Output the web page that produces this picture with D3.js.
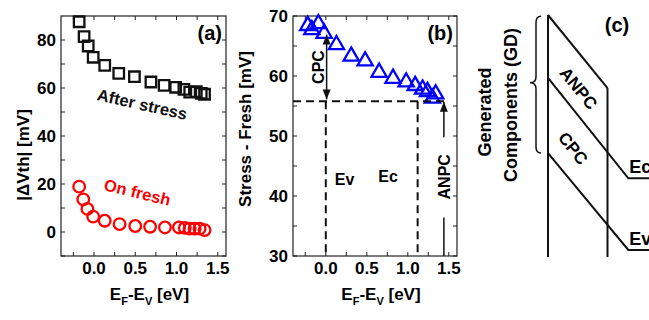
<!DOCTYPE html>
<html><head><meta charset="utf-8">
<script src="https://cdn.jsdelivr.net/npm/d3@7"></script>
<style>body{margin:0;background:#fff}svg{display:block}text{font-family:"Liberation Sans",Arial,sans-serif;font-weight:bold}</style>
</head><body><svg id="c" width="649" height="320"></svg>
<script>
// ---- data ----
const xMajorTicks = [0, 0.5, 1.0, 1.5];
const xMinorTicks = [-0.25, 0.25, 0.75, 1.25];
const aYMajorTicks = [0, 20, 40, 60, 80];
const aYMinorTicks = [-10, 10, 30, 50, 70];
const bYMajorTicks = [30, 40, 50, 60, 70];
const bYMinorTicks = [35, 45, 55, 65];

const stressX = [-0.18, -0.12, -0.07, -0.01, 0.13, 0.30, 0.49, 0.69, 0.85, 0.99, 1.09, 1.16, 1.24, 1.30, 1.34];
const stressY = [87.6, 81.4, 77.5, 72.8, 69.4, 66.1, 64.7, 62.5, 61.1, 60.3, 59.4, 58.3, 58.5, 57.8, 57.4];
const freshX  = [-0.18, -0.13, -0.08, -0.01, 0.13, 0.31, 0.50, 0.68, 0.86, 1.03, 1.10, 1.16, 1.22, 1.28, 1.34];
const freshY  = [18.9, 13.6, 9.6, 6.4, 4.7, 3.3, 2.5, 2.2, 1.9, 1.9, 1.7, 1.4, 1.4, 1.4, 0.8];
const diffX = [-0.22, -0.17, -0.09, -0.02, 0.13, 0.31, 0.48, 0.65, 0.82, 0.98, 1.09, 1.18, 1.24, 1.30, 1.34];
const diffY = [68.4, 67.7, 68.7, 67.1, 65.2, 63.3, 62.5, 60.6, 59.6, 59.0, 58.4, 57.8, 57.4, 56.3, 57.0];

const refLevel = 55.8;   // horizontal dashed level in (b)
const evPos = 0.0, ecPos = 1.12, anpcPos = 1.44;

// schematic (c): band edges in relative units [start level, level at knee]
const bandLabels = ["Ec", "Ev"];
const bandStart = [0.26, 0.571];
const bandKnee  = [0.675, 0.971];

const svg = d3.select("#c");
const FS = 17;

function panel(left, right, top, bottom, xDom, yDom, yMaj, yMin) {
  const x = d3.scaleLinear().domain(xDom).range([left, right]);
  const y = d3.scaleLinear().domain(yDom).range([bottom, top]);
  const g = svg.append("g");
  const tk = 4;
  const allX = xMajorTicks.concat(xMinorTicks);
  const allY = yMaj.concat(yMin);
  allX.forEach(v => {
    g.append("line").attr("x1", x(v)).attr("x2", x(v)).attr("y1", bottom).attr("y2", bottom - tk).attr("stroke", "#222").attr("stroke-width", 1);
    g.append("line").attr("x1", x(v)).attr("x2", x(v)).attr("y1", top).attr("y2", top + tk).attr("stroke", "#222").attr("stroke-width", 1);
  });
  allY.forEach(v => {
    if (y(v) > bottom + 0.5 || y(v) < top - 0.5) return;
    g.append("line").attr("x1", left).attr("x2", left + tk).attr("y1", y(v)).attr("y2", y(v)).attr("stroke", "#222").attr("stroke-width", 1);
    g.append("line").attr("x1", right).attr("x2", right - tk).attr("y1", y(v)).attr("y2", y(v)).attr("stroke", "#222").attr("stroke-width", 1);
  });
  g.append("rect").attr("x", left).attr("y", top).attr("width", right - left).attr("height", bottom - top)
    .attr("fill", "none").attr("stroke", "#222").attr("stroke-width", 1.2);
  xMajorTicks.forEach(v => {
    g.append("text").attr("x", x(v)).attr("y", bottom + 18).attr("text-anchor", "middle").attr("font-size", FS)
      .text(v.toFixed(1));
  });
  yMaj.forEach(v => {
    g.append("text").attr("x", left - 5).attr("y", y(v) + 6).attr("text-anchor", "end").attr("font-size", FS).text(v);
  });
  const xl = g.append("text").attr("x", (left + right) / 2 + 6).attr("y", 300).attr("text-anchor", "middle").attr("font-size", FS);
  xl.append("tspan").text("E");
  xl.append("tspan").attr("font-size", 11).attr("dy", 5).text("F");
  xl.append("tspan").attr("dy", -5).text("-E");
  xl.append("tspan").attr("font-size", 11).attr("dy", 5).text("V");
  xl.append("tspan").attr("dy", -5).text(" [eV]");
  return {x, y, g};
}

// ---- panel (a) ----
const A = panel(61, 226, 16, 256, [-0.4, 1.6], [-10, 90], aYMajorTicks, aYMinorTicks);
const sq = d3.symbol().type(d3.symbolSquare).size(110);
A.g.selectAll("path.sq").data(stressX.map((v, i) => [v, stressY[i]])).join("path")
  .attr("d", sq).attr("transform", d => `translate(${A.x(d[0])},${A.y(d[1])})`)
  .attr("fill", "none").attr("stroke", "#111").attr("stroke-width", 2.3);
A.g.selectAll("circle.fr").data(freshX.map((v, i) => [v, freshY[i]])).join("circle")
  .attr("cx", d => A.x(d[0])).attr("cy", d => A.y(d[1])).attr("r", 5.8)
  .attr("fill", "none").attr("stroke", "#ff0000").attr("stroke-width", 2.3);
A.g.append("text").attr("transform", "translate(141,110) rotate(12.5)").attr("text-anchor", "middle").attr("font-size", 16.5).attr("fill", "#111").text("After stress");
A.g.append("text").attr("transform", "translate(136,198) rotate(13.5)").attr("text-anchor", "middle").attr("font-size", 16.5).attr("fill", "#ff0000").text("On fresh");
A.g.append("text").attr("x", 222).attr("y", 40).attr("text-anchor", "end").attr("font-size", 20).text("(a)");
svg.append("text").attr("transform", "translate(29,155) rotate(-90)").attr("text-anchor", "middle").attr("font-size", FS)
  .text("|\u0394Vth| [mV]");

// ---- panel (b) ----
const B = panel(293, 457, 16, 256, [-0.4, 1.6], [30, 70], bYMajorTicks, bYMinorTicks);
const tri = d3.symbol().type(d3.symbolTriangle).size(100);
B.g.selectAll("path.tr").data(diffX.map((v, i) => [v, diffY[i]])).join("path")
  .attr("d", tri).attr("transform", d => `translate(${B.x(d[0])},${B.y(d[1])})`)
  .attr("fill", "none").attr("stroke", "#0000ff").attr("stroke-width", 2.3);
const dash = "8,5";
B.g.append("line").attr("x1", B.x(-0.4)).attr("x2", B.x(anpcPos + 0.02)).attr("y1", B.y(refLevel)).attr("y2", B.y(refLevel))
  .attr("stroke", "#111").attr("stroke-width", 2).attr("stroke-dasharray", dash);
[evPos, ecPos].forEach(v => {
  B.g.append("line").attr("x1", B.x(v)).attr("x2", B.x(v)).attr("y1", B.y(refLevel)).attr("y2", B.y(30))
    .attr("stroke", "#111").attr("stroke-width", 2).attr("stroke-dasharray", dash);
});
const defs = svg.append("defs");
defs.append("marker").attr("id", "ah").attr("viewBox", "0 0 10 10").attr("refX", 10).attr("refY", 5)
  .attr("markerWidth", 10).attr("markerHeight", 10).attr("markerUnits", "userSpaceOnUse").attr("orient", "auto-start-reverse")
  .append("path").attr("d", "M0,1 L10,5 L0,9 Z").attr("fill", "#111");
B.g.append("line").attr("x1", B.x(0.01)).attr("x2", B.x(0.01)).attr("y1", B.y(66.9)).attr("y2", B.y(refLevel + 0.3))
  .attr("stroke", "#111").attr("stroke-width", 1.5).attr("marker-start", "url(#ah)").attr("marker-end", "url(#ah)");
B.g.append("text").attr("transform", `translate(${B.x(-0.1) + 6},${B.y(61.5)}) rotate(-90)`).attr("text-anchor", "middle").attr("font-size", 16).text("CPC");
B.g.append("line").attr("x1", B.x(anpcPos)).attr("x2", B.x(anpcPos)).attr("y1", B.y(49.8)).attr("y2", B.y(refLevel - 0.1))
  .attr("stroke", "#111").attr("stroke-width", 1.5).attr("marker-end", "url(#ah)");
B.g.append("line").attr("x1", B.x(anpcPos)).attr("x2", B.x(anpcPos)).attr("y1", B.y(36.4)).attr("y2", B.y(30))
  .attr("stroke", "#111").attr("stroke-width", 1.5);
B.g.append("text").attr("transform", `translate(${B.x(anpcPos) + 6},${B.y(43.2)}) rotate(-90)`).attr("text-anchor", "middle").attr("font-size", 16).text("ANPC");
B.g.append("text").attr("x", B.x(0.23)).attr("y", B.y(41.9)).attr("text-anchor", "middle").attr("font-size", 16).text("Ev");
B.g.append("text").attr("x", B.x(0.76)).attr("y", B.y(42.4)).attr("text-anchor", "middle").attr("font-size", 16).text("Ec");
B.g.append("text").attr("x", 453).attr("y", 40).attr("text-anchor", "end").attr("font-size", 20).text("(b)");
svg.append("text").attr("transform", "translate(251,129) rotate(-90)").attr("text-anchor", "middle").attr("font-size", FS)
  .text("Stress - Fresh [mV]");

// ---- panel (c) schematic ----
const cx = d3.scaleLinear().domain([0, 1]).range([548, 607.5]);
const cy = d3.scaleLinear().domain([0, 1]).range([15, 257]);
const cg = svg.append("g").attr("fill", "none").attr("stroke", "#111").attr("stroke-width", 2);
const topSlope = 0.302;
const kneeX = 1.35;
cg.append("line").attr("x1", cx(0)).attr("x2", cx(0)).attr("y1", cy(0)).attr("y2", cy(1));
cg.append("line").attr("x1", cx(1)).attr("x2", cx(1)).attr("y1", cy(topSlope)).attr("y2", cy(1));
cg.append("line").attr("x1", cx(0)).attr("y1", cy(0)).attr("x2", cx(1)).attr("y2", cy(topSlope));
bandStart.forEach((s, i) => {
  cg.append("polyline").attr("points", [
    [cx(0), cy(s)], [cx(kneeX), cy(bandKnee[i])], [cx(1.75), cy(bandKnee[i])]
  ].map(p => p.join(",")).join(" "));
  svg.append("text").attr("x", cx(kneeX) + 1).attr("y", cy(bandKnee[i]) - 5).attr("font-size", 18).text(bandLabels[i]);
});
const ang = Math.atan2(cy(topSlope) - cy(0), cx(1) - cx(0)) * 180 / Math.PI;
svg.append("text").attr("transform", `translate(574,92) rotate(${ang})`).attr("text-anchor", "middle").attr("font-size", 17).text("ANPC");
svg.append("text").attr("transform", `translate(568.5,152) rotate(${ang})`).attr("text-anchor", "middle").attr("font-size", 17).text("CPC");
svg.append("text").attr("x", 617).attr("y", 32).attr("text-anchor", "middle").attr("font-size", 20).text("(c)");
const bTop = cy(0.005), bBot = cy(0.57), bMid = cy(0.28), bx = 536;
svg.append("path").attr("fill", "none").attr("stroke", "#111").attr("stroke-width", 1.5)
  .attr("d", `M${bx + 5},${bTop} Q${bx},${bTop} ${bx},${bTop + 6} L${bx},${bMid - 6} Q${bx},${bMid} ${bx - 6},${bMid} Q${bx},${bMid} ${bx},${bMid + 6} L${bx},${bBot - 6} Q${bx},${bBot} ${bx + 5},${bBot}`);
svg.append("text").attr("transform", "translate(491,112) rotate(-90)").attr("text-anchor", "middle").attr("font-size", 18).text("Generated");
svg.append("text").attr("transform", "translate(517,105) rotate(-90)").attr("text-anchor", "middle").attr("font-size", 18).text("Components (GD)");
</script></body></html>
